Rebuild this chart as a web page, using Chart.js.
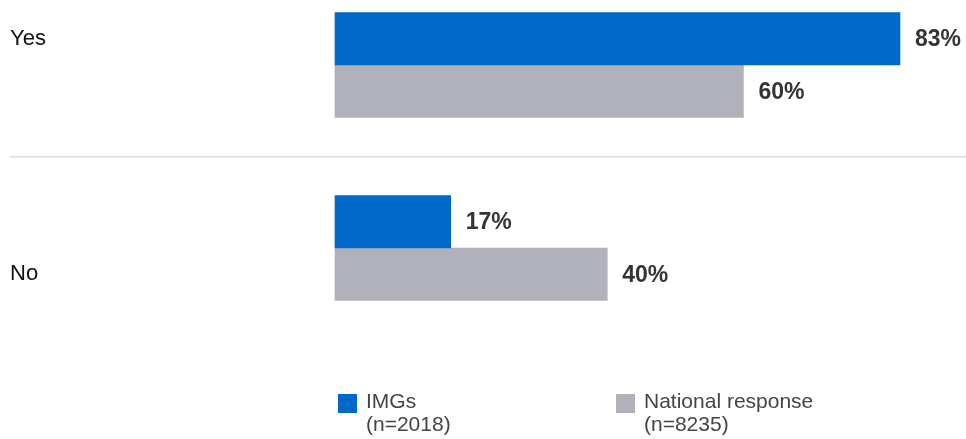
<!DOCTYPE html>
<html>
<head>
<meta charset="utf-8">
<script src="https://cdn.jsdelivr.net/npm/chart.js@4/dist/chart.umd.min.js"></script>
<style>
    body { margin: 0; background: #fff; }
    #wrap { position: relative; width: 966px; height: 439px; }
    #legend {
        position: absolute; left: 338px; top: 389px;
        display: flex;
        font-family: "Liberation Sans", Arial, sans-serif;
        font-size: 21px; line-height: 23px; color: #444;
    }
    .item { display: flex; width: 278px; }
    .box { width: 19px; height: 19px; margin-top: 5px; margin-right: 9px; flex: none; }
</style>
</head>
<body>
<div id="wrap">
    <canvas id="chart" width="966" height="439"></canvas>
    <div id="legend"></div>
</div>
<script>
'use strict';

const categories = ['Yes', 'No'];
const series_names = ['IMGs', 'National response'];
const sample_sizes = ['(n=2018)', '(n=8235)'];
const imgs_values = [83, 17];
const national_values = [60, 40];
const bar_colors = ['#0068c9', '#b1b1bc'];

const FONT = '"Liberation Sans", Arial, sans-serif';

// percentage labels at the end of each bar
const value_labels = {
    id: 'value_labels',
    afterDatasetsDraw(chart) {
        const ctx = chart.ctx;
        ctx.save();
        ctx.font = 'bold 23px ' + FONT;
        ctx.fillStyle = '#333338';
        ctx.textAlign = 'left';
        ctx.textBaseline = 'middle';
        chart.data.datasets.forEach((ds, i) => {
            chart.getDatasetMeta(i).data.forEach((bar, j) => {
                ctx.fillText(ds.data[j] + '%', bar.x + 15, bar.y + 1);
            });
        });
        ctx.restore();
    }
};

function build_legend(chart) {
    const legend = document.getElementById('legend');
    chart.data.datasets.forEach((ds, i) => {
        const item = document.createElement('div');
        item.className = 'item';
        const box = document.createElement('div');
        box.className = 'box';
        box.style.background = ds.backgroundColor;
        const text = document.createElement('div');
        text.innerHTML = ds.label + '<br>' + sample_sizes[i];
        item.appendChild(box);
        item.appendChild(text);
        legend.appendChild(item);
    });
}

document.addEventListener('DOMContentLoaded', function(_event) {
    const ctx = document.getElementById('chart').getContext('2d');
    const chart = new Chart(ctx, {
        type: 'bar',
        data: {
            labels: categories,
            datasets: [{
                label: series_names[0],
                data: imgs_values,
                backgroundColor: bar_colors[0],
                clip: false,
            }, {
                label: series_names[1],
                data: national_values,
                backgroundColor: bar_colors[1],
                clip: false,
            }]
        },
        options: {
            indexAxis: 'y',
            responsive: false,
            animation: false,
            barThickness: 52.5,
            layout: { padding: { top: 65, left: 10, right: 0, bottom: 191 } },
            plugins: {
                legend: { display: false },
                tooltip: { enabled: false },
            },
            scales: {
                x: {
                    display: false,
                    min: 0,
                    max: 92.7,
                },
                y: {
                    offset: false,
                    border: { display: false },
                    grid: {
                        offset: true,
                        color: '#dddddd',
                        lineWidth: 1.5,
                        drawTicks: true,
                        tickLength: 325,
                    },
                    ticks: {
                        crossAlign: 'far',
                        color: '#111',
                        font: { family: FONT, size: 22, lineHeight: '52.5px' },
                        callback: function(value, index) {
                            const label = this.getLabelForValue(value);
                            return index === 0 ? [label, ''] : ['', label];
                        }
                    },
                    afterFit: (scale) => { scale.width = 325; },
                }
            }
        },
        plugins: [value_labels],
    });
    build_legend(chart);
});
</script>
</body>
</html>
